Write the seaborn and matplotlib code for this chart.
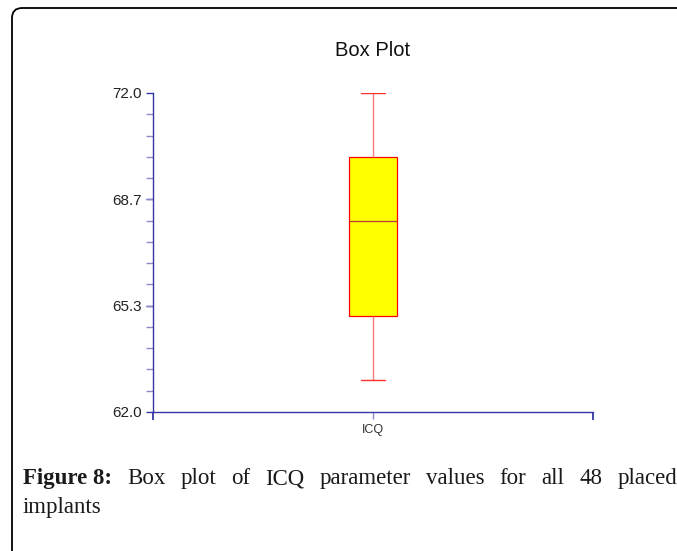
import matplotlib
matplotlib.use("Agg")
import matplotlib.pyplot as plt
import seaborn as sns
import pandas as pd
from matplotlib.patches import FancyBboxPatch
from matplotlib.ticker import MultipleLocator

# ---- data ----
category = ["ICQ"]
icq_values = [63.0, 65.0, 68.0, 70.0, 72.0]   # min, Q1, median, Q3, max
ytick_values = [62.0, 65.333, 68.667, 72.0]
ytick_labels = ["62.0", "65.3", "68.7", "72.0"]
title = "Box Plot"
caption_bold = "Figure 8:"
caption_line1 = "Box plot of ICQ parameter values for all 48 placed"
caption_line2 = "implants"

df = pd.DataFrame({"param": category * len(icq_values), "value": icq_values})

sns.set_theme(style="white")
plt.rcParams["font.family"] = ["Liberation Sans", "DejaVu Sans"]

fig = plt.figure(figsize=(6.77, 5.51), dpi=100)
fig.patch.set_facecolor("white")

# outer rounded frame (extends beyond right/bottom edges)
frame = FancyBboxPatch((12 / 677, -0.2), 1.2, 1 - 8 / 551 + 0.2,
                       boxstyle="round,pad=0,rounding_size=0.015",
                       transform=fig.transFigure, facecolor="none",
                       edgecolor="black", linewidth=1.3, mutation_aspect=677 / 551)
fig.patches.append(frame)

ax = fig.add_axes([153 / 677, 1 - 412 / 551, 440 / 677, 319 / 551])
ax.set_facecolor("white")

axis_col = "#3535a5"
sns.boxplot(data=df, x="param", y="value", ax=ax, width=0.107, saturation=1,
            color="#ffff00", linewidth=0.9, whis=1.5,
            boxprops=dict(facecolor="#ffff00", edgecolor="#ff0000"),
            medianprops=dict(color="#b83a3a", linewidth=0.9),
            whiskerprops=dict(color="#ff7a7a", linewidth=1.0),
            capprops=dict(color="#ff3030", linewidth=1.0),
            showfliers=False)

ax.set_xlim(-0.5, 0.5)
ax.set_ylim(62.0, 72.0)
ax.set_yticks(ytick_values)
ax.set_yticklabels(ytick_labels)
ax.yaxis.set_minor_locator(MultipleLocator(2 / 3))
ax.set_xticks([0])
ax.set_xticklabels(category)
ax.set_xticks([-0.5, 0.5], minor=True)
ax.set_xlabel("")
ax.set_ylabel("")

for s in ["top", "right"]:
    ax.spines[s].set_visible(False)
for s in ["left", "bottom"]:
    ax.spines[s].set_color(axis_col)
    ax.spines[s].set_linewidth(1.0)

ax.tick_params(axis="y", which="major", direction="out", length=5, width=1.0,
               color=axis_col, labelsize=11, labelcolor="#222222", pad=3, left=True)
ax.tick_params(axis="y", which="minor", direction="out", length=5, width=1.0,
               color="#8c8cc8", left=True)
ax.tick_params(axis="x", which="major", direction="out", length=5, width=1.0,
               color="#8c8cc8", labelsize=9, labelcolor="#333333", pad=4, bottom=True)
ax.tick_params(axis="x", which="minor", direction="out", length=6, width=1.3,
               color=axis_col, bottom=True)

fig.text(373 / 677, 1 - 51 / 551, title, ha="center", va="center",
         fontsize=14.5, color="#111111")

# justified caption
serif = ["Liberation Serif", "DejaVu Serif"]
words = [(caption_bold, "bold")] + [(w, "normal") for w in caption_line1.split()]
y1 = 1 - 484 / 551
x_left, x_right = 23 / 677, 677 / 677
fig.canvas.draw()
r = fig.canvas.get_renderer()
texts = []
for w, wt in words:
    t = fig.text(0, y1, w, fontsize=16.5, fontweight=wt, family=serif,
                 color="#1a1a1a", ha="left", va="baseline")
    texts.append(t)
widths = [t.get_window_extent(r).width / fig.bbox.width for t in texts]
gap = (x_right - x_left - sum(widths)) / (len(texts) - 1)
x = x_left
for t, wd in zip(texts, widths):
    t.set_x(x)
    x += wd + gap
fig.text(x_left, 1 - 513 / 551, caption_line2, fontsize=16.5, family=serif,
         color="#1a1a1a", ha="left", va="baseline")

fig.savefig("out.png", dpi=100, facecolor="white")
